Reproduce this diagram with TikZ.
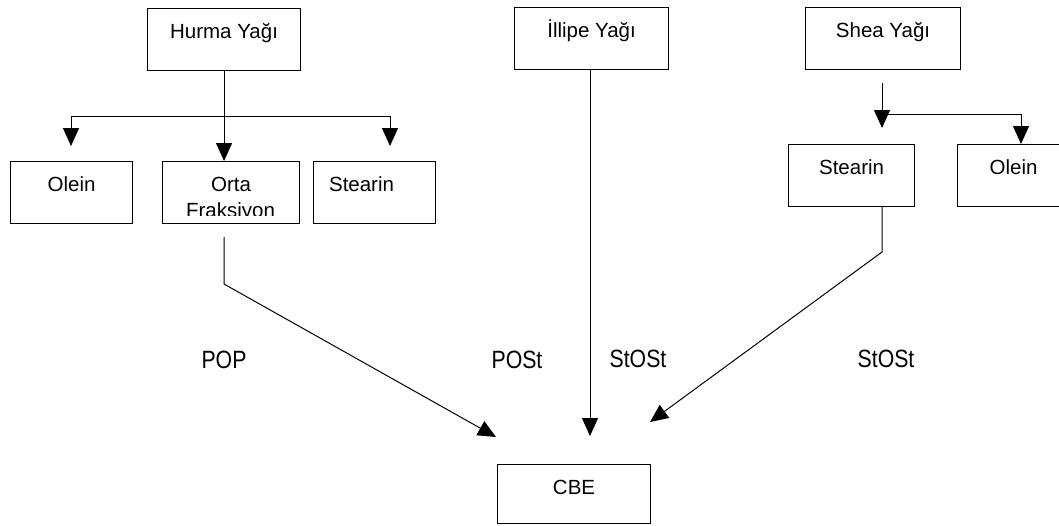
\documentclass[tikz,border=0pt]{standalone}
\usepackage{fontspec}
\setmainfont{Liberation Sans}
\newfontfamily\narrowfont{Liberation Sans}[FakeStretch=0.85]
\usetikzlibrary{arrows.meta}
\begin{document}
\begin{tikzpicture}[x=1pt,y=-1pt,
  box/.style={draw, line width=1.1pt, rectangle, inner sep=0pt, anchor=north west,
    font=\fontsize{20.5}{24}\selectfont, text height=30pt, text depth=32pt},
  conn/.style={draw, line width=1pt},
  arr/.style={conn, -{Triangle[length=18pt,width=16pt]}},
  lbl/.style={inner sep=0pt, anchor=base, font=\narrowfont\fontsize{25}{28}\selectfont}]
\useasboundingbox (0,0) rectangle (1059,525);
\clip (0,0) rectangle (1059,525);
% Hurma branch
\node[box, minimum width=153pt] (hurma) at (147,8) {Hurma Yağı};
\node[box, minimum width=122pt] (oleinL) at (10,161) {Olein};
\node[box, minimum width=137pt] (orta) at (162,161) {Orta};
\begin{scope}
  \clip (162,200) rectangle (299,215.5);
  \node[inner sep=0pt, anchor=base, font=\fontsize{20.5}{24}\selectfont] (frak) at (230.5,217) {Fraksiyon};
\end{scope}
\node[box, minimum width=122pt] (stearinL) at (313,161) {\hspace*{-26pt}Stearin};
% Illipe
\node[box, minimum width=154pt] (illipe) at (514,7) {İllipe Yağı};
% Shea branch
\node[box, minimum width=155pt] (shea) at (805,7) {Shea Yağı};
\node[box, minimum width=126pt] (stearinR) at (788,144) {Stearin};
\node[box, minimum width=124pt] (oleinR) at (957,144) {\hspace*{-6pt}Olein\hspace*{6pt}};
% CBE
\node[box, minimum width=153pt, text depth=29pt] (cbe) at (497,464) {CBE};
% coordinates
\coordinate (hL) at (71,116);
\coordinate (hR) at (390,116);
\coordinate (hLt) at (71,146);
\coordinate (hRt) at (390,146);
\coordinate (sTop) at (882,83);
\coordinate (sTip) at (882,128);
\coordinate (sJ) at (882,114);
\coordinate (sR) at (1021,114);
\coordinate (sRt) at (1021,144);
\coordinate (oStart) at (224,237);
\coordinate (oBend) at (224,284);
\coordinate (oTip) at (496,437);
\coordinate (iTip) at (590,436);
\coordinate (stBend) at (882,252);
\coordinate (stTip) at (650,422);
% Hurma connectors
\draw[arr] (hurma.south) -- (hurma.south |- orta.north);
\draw[conn] (hL) -- (hR);
\draw[arr] (hL) -- (hLt);
\draw[arr] (hR) -- (hRt);
% Shea connectors
\draw[arr] (sTop) -- (sTip);
\draw[conn] (sJ) -- (sR);
\draw[arr] (sR) -- (sRt);
% to CBE
\draw[arr] (oStart) -- (oBend) -- (oTip);
\draw[arr] (illipe.south -| iTip) -- (iTip);
\draw[arr] (stearinR.south -| stBend) -- (stBend) -- (stTip);
% labels
\node[lbl] (pop) at (224,368) {POP};
\node[lbl] (post) at (517,368) {POSt};
\node[lbl] (stost1) at (638,367) {StOSt};
\node[lbl] (stost2) at (886,367) {StOSt};
\end{tikzpicture}
\end{document}
